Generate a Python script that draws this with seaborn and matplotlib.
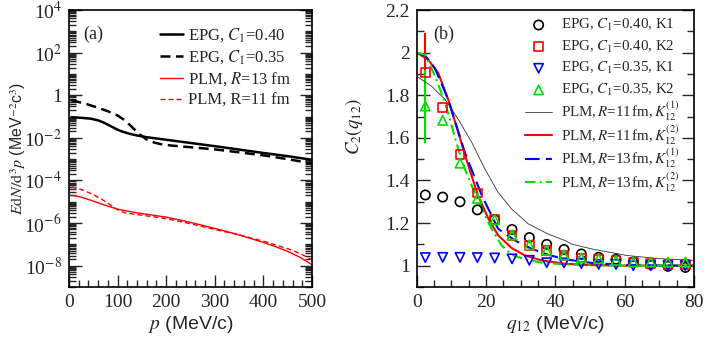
import numpy as np
import pandas as pd
import seaborn as sns
import matplotlib.pyplot as plt
from matplotlib.ticker import FixedLocator, FixedFormatter, MultipleLocator, LogLocator, NullFormatter

# ---- panel (a): spectra ----
p_epg040 = [5, 25, 45, 60, 70, 80, 90, 100, 110, 125, 140, 160, 180, 200, 250, 300, 350, 400, 450, 500]
epg040 = [0.0933, 0.0871, 0.0794, 0.0661, 0.0537, 0.0417, 0.0316, 0.0240, 0.0195, 0.0155,
          0.0129, 0.0107, 0.00933, 0.00813, 0.00575, 0.00407, 0.00282, 0.00195, 0.00138, 0.000933]
p_epg035 = [5, 20, 40, 60, 80, 100, 115, 130, 145, 160, 175, 190, 210, 250, 300, 350, 400, 450, 475, 500]
epg035 = [0.575, 0.479, 0.363, 0.257, 0.178, 0.112, 0.0661, 0.0316, 0.0148, 0.00832, 0.00603,
          0.00501, 0.00437, 0.00363, 0.00288, 0.00209, 0.00151, 0.00100, 0.000794, 0.000575]
p_plm13 = [5, 25, 50, 75, 100, 125, 150, 200, 225, 250, 275, 300, 325, 350, 375, 400, 425, 450, 475, 500]
plm13 = [2.0e-5, 1.66e-5, 1.07e-5, 6.8e-6, 4.5e-6, 3.5e-6, 2.8e-6, 1.9e-6, 1.45e-6, 1.07e-6,
         7.8e-7, 5.6e-7, 4.0e-7, 2.75e-7, 1.86e-7, 1.23e-7, 7.8e-8, 4.7e-8, 2.5e-8, 1.12e-8]
p_plm11 = [5, 25, 50, 70, 85, 100, 115, 150, 200, 250, 300, 350, 400, 450, 475, 500]
plm11 = [5.0e-5, 3.8e-5, 2.19e-5, 1.2e-5, 7.1e-6, 4.2e-6, 3.0e-6, 2.34e-6, 1.62e-6, 9.3e-7,
         5.0e-7, 2.8e-7, 1.41e-7, 6.3e-8, 3.8e-8, 1.9e-8]

ya_ticks = [1e-8, 1e-6, 1e-4, 1e-2, 1, 1e2, 1e4]
ya_labels = ["10$^{-8}$", "10$^{-6}$", "10$^{-4}$", "10$^{-2}$", "1", "10$^{2}$", "10$^{4}$"]

# ---- panel (b): correlation functions ----
q_pts = [2.5, 7.5, 12.5, 17.5, 22.5, 27.5, 32.5, 37.5, 42.5, 47.5, 52.5, 57.5, 62.5, 67.5, 72.5, 77.5]
c040_k1 = [1.332, 1.322, 1.30, 1.262, 1.216, 1.17, 1.132, 1.10, 1.076, 1.055, 1.039,
           1.03, 1.017, 1.006, 0.997, 0.992]
c040_k2 = [1.905, 1.742, 1.522, 1.341, 1.216, 1.142, 1.095, 1.072, 1.048, 1.036, 1.028,
           1.025, 1.017, 1.009, 1.006, 1.006]
c035_k1 = [1.038, 1.039, 1.039, 1.038, 1.036, 1.032, 1.025, 1.014, 1.013, 1.01, 1.006,
           1.006, 1.0, 1.0, 1.0, 1.0]
c035_k2 = [1.749, 1.682, 1.481, 1.316, 1.216, 1.144, 1.098, 1.072, 1.05, 1.037, 1.033,
           1.025, 1.017, 1.017, 1.017, 1.017]
err_040_k2 = 0.187
err_035_k2 = 0.171

q_r11k1 = [0, 4.3, 8.2, 12, 15.9, 19.7, 23.5, 27.4, 32.2, 38, 42.8, 45, 51, 60.6, 70.2, 80]
c_r11k1 = [1.889, 1.842, 1.78, 1.687, 1.578, 1.453, 1.344, 1.266, 1.196, 1.148, 1.118,
           1.10, 1.077, 1.048, 1.033, 1.025]
q_r11k2 = [0, 3.3, 6.2, 9.1, 12, 14.9, 17.7, 20.7, 23.5, 27.4, 31.2, 36, 42.8, 50, 60, 80]
c_r11k2 = [2.0, 1.967, 1.905, 1.78, 1.625, 1.469, 1.329, 1.22, 1.142, 1.083, 1.048,
           1.025, 1.009, 1.003, 1.0, 1.0]
q_r13k1 = [0, 2.5, 5.3, 9.1, 13.9, 18.8, 23.5, 28.4, 33.2, 38, 42.8, 50.9, 60, 70, 80]
c_r13k1 = [2.0, 1.985, 1.925, 1.78, 1.531, 1.329, 1.173, 1.118, 1.079, 1.051, 1.030,
           1.012, 1.004, 1.001, 1.0]
q_r13k2 = [0, 2.4, 5.3, 8.2, 10.1, 12, 13.9, 15.9, 18.8, 21.6, 24.5, 27.4, 31.2, 36, 42.8, 55, 80]
c_r13k2 = [2.0, 1.99, 1.889, 1.765, 1.656, 1.547, 1.453, 1.375, 1.266, 1.173, 1.095,
           1.051, 1.03, 1.014, 1.006, 1.001, 1.0]

yb_ticks = [1.0, 1.2, 1.4, 1.6, 1.8, 2.0, 2.2]
yb_labels = ["1", "1.2", "1.4", "1.6", "1.8", "2", "2.2"]

sns.set_style("ticks")
plt.rcParams["font.family"] = ["Liberation Serif", "DejaVu Serif"]
plt.rcParams["mathtext.fontset"] = "stix"
plt.rcParams["axes.linewidth"] = 1.2

fig = plt.figure(figsize=(7.06, 3.38), dpi=100)
ax1 = fig.add_axes([0.0977, 0.1509, 0.3442, 0.8195])
ax2 = fig.add_axes([0.5902, 0.1509, 0.3928, 0.8195])

TICK = 14
sans = "Liberation Sans"
green = "#00e000"

# panel (a)
sns.lineplot(x=p_epg040, y=epg040, ax=ax1, color="black", lw=1.8, label="EPG, $C_1$=0.40")
sns.lineplot(x=p_epg035, y=epg035, ax=ax1, color="black", lw=1.8,
             linestyle=(0, (4, 2.2)), label="EPG, $C_1$=0.35")
sns.lineplot(x=p_plm13, y=plm13, ax=ax1, color="red", lw=1.0, label="PLM, $R$=13 fm")
sns.lineplot(x=p_plm11, y=plm11, ax=ax1, color="red", lw=1.0,
             linestyle=(0, (3.6, 2.2)), label="PLM, R=11 fm")
ax1.set_yscale("log")
ax1.set_xlim(0, 500)
ax1.set_ylim(1e-9, 1e4)
ax1.xaxis.set_major_locator(MultipleLocator(100))
ax1.xaxis.set_minor_locator(MultipleLocator(20))
ax1.yaxis.set_major_locator(FixedLocator(ya_ticks))
ax1.yaxis.set_major_formatter(FixedFormatter(ya_labels))
ax1.yaxis.set_minor_locator(LogLocator(base=10, subs=np.arange(1, 10), numticks=100))
ax1.yaxis.set_minor_formatter(NullFormatter())
ax1.legend(loc="upper left", bbox_to_anchor=(0.374, 0.94), frameon=False, fontsize=12,
           handlelength=1.4, labelspacing=0.25, borderaxespad=0, borderpad=0,
           handletextpad=0.3)
ax1.text(0.058, 0.945, "(a)", transform=ax1.transAxes, fontsize=13, va="top")
ax1.set_xlabel("$p$ (MeV/c)", fontsize=14, family=sans, labelpad=2)
ax1.set_ylabel(r"$E\mathrm{d}N/\mathrm{d}^3p$ (MeV$^{-2}$c$^3$)", fontsize=11.5, family=sans)
ax1.yaxis.set_label_coords(-0.17, 0.5)

# panel (b)
ax2.errorbar(q_pts[0], c040_k2[0], yerr=err_040_k2, color="red", lw=1.5, fmt="none")
ax2.errorbar(q_pts[0], c035_k2[0], yerr=err_035_k2, color=green, lw=1.5, fmt="none")
sns.scatterplot(x=q_pts, y=c040_k1, ax=ax2, marker="o", s=45, facecolors="none",
                edgecolor="black", linewidth=1.2, label="EPG, $C_1$=0.40, K1", zorder=3)
sns.scatterplot(x=q_pts, y=c040_k2, ax=ax2, marker="s", s=40, facecolors="none",
                edgecolor="red", linewidth=1.2, label="EPG, $C_1$=0.40, K2", zorder=3)
sns.scatterplot(x=q_pts, y=c035_k1, ax=ax2, marker="v", s=45, facecolors="none",
                edgecolor="blue", linewidth=1.2, label="EPG, $C_1$=0.35, K1", zorder=3)
sns.scatterplot(x=q_pts, y=c035_k2, ax=ax2, marker="^", s=45, facecolors="none",
                edgecolor=green, linewidth=1.2, label="EPG, $C_1$=0.35, K2", zorder=3)
sns.lineplot(x=q_r11k1, y=c_r11k1, ax=ax2, color="#333333", lw=0.6,
             label=r"PLM,$\,R$=11$\,$fm,$\,K_{12}^{(1)}$")
sns.lineplot(x=q_r11k2, y=c_r11k2, ax=ax2, color="red", lw=1.5,
             label=r"PLM,$\,R$=11$\,$fm,$\,K_{12}^{(2)}$")
sns.lineplot(x=q_r13k1, y=c_r13k1, ax=ax2, color="blue", lw=1.5,
             linestyle=(0, (7, 3)), label=r"PLM,$\,R$=13$\,$fm,$\,K_{12}^{(1)}$")
sns.lineplot(x=q_r13k2, y=c_r13k2, ax=ax2, color=green, lw=1.5,
             linestyle=(0, (5, 2, 1, 2)), label=r"PLM,$\,R$=13$\,$fm,$\,K_{12}^{(2)}$")
ax2.set_xlim(0, 80)
ax2.set_ylim(0.9, 2.2)
ax2.xaxis.set_major_locator(MultipleLocator(20))
ax2.xaxis.set_minor_locator(MultipleLocator(5))
ax2.yaxis.set_major_locator(FixedLocator(yb_ticks))
ax2.yaxis.set_major_formatter(FixedFormatter(yb_labels))
ax2.yaxis.set_minor_locator(MultipleLocator(0.1))

# two legend blocks: markers, then model curves
handles, labels = ax2.get_legend_handles_labels()
leg_kw = dict(frameon=False, fontsize=10.8, handlelength=1.8, borderaxespad=0,
              borderpad=0, handletextpad=0.6, loc="upper left")
leg1 = ax2.legend(handles[:4], labels[:4], bbox_to_anchor=(0.391, 0.975),
                  labelspacing=0.37, **leg_kw)
ax2.add_artist(leg1)
ax2.legend(handles[4:], labels[4:], bbox_to_anchor=(0.391, 0.675),
           labelspacing=0.0, **leg_kw)

ax2.text(0.059, 0.945, "(b)", transform=ax2.transAxes, fontsize=13, va="top")
ax2.set_xlabel("$q_{12}$ (MeV/c)", fontsize=14, family=sans, labelpad=2)
ax2.set_ylabel("$C_2(q_{12})$", fontsize=13.5)
ax2.yaxis.set_label_coords(-0.185, 0.58)

for ax in (ax1, ax2):
    ax.tick_params(which="both", direction="in", top=False, right=True,
                   labelsize=TICK, width=1.0, pad=5)
    ax.tick_params(which="major", length=9)
    ax.tick_params(which="minor", length=5)
    for s in ax.spines.values():
        s.set_visible(True)
        s.set_color("black")

fig.savefig("out.png", dpi=100, facecolor="white")
